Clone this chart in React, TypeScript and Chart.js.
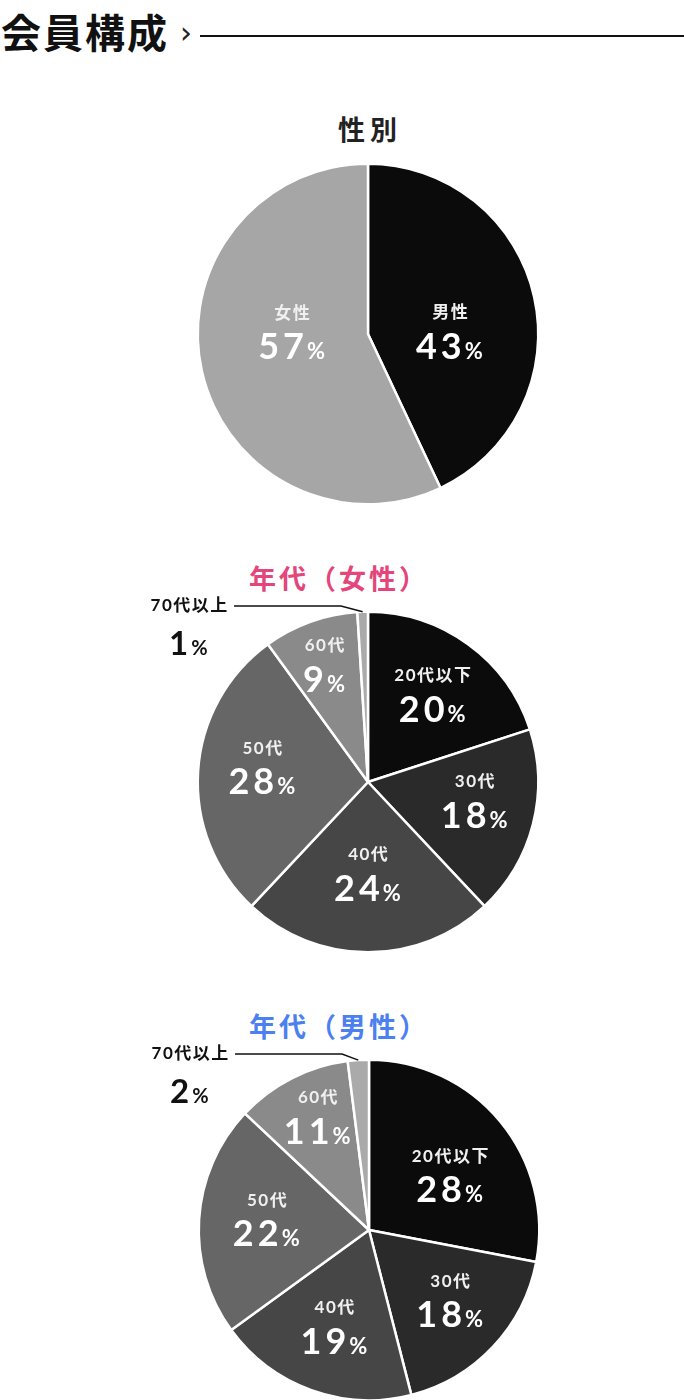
import { Chart, registerables, type ChartConfiguration, type Plugin } from "chart.js";
import type React from "react";
import { useEffect, useRef } from "react";

Chart.register(...registerables);

const genderLabels = ["男性", "女性"];
const genderValues = [43, 57];
const genderColors = ["#0b0b0b", "#a6a6a6"];

const ageLabels = ["20代以下", "30代", "40代", "50代", "60代", "70代以上"];
const femaleAgeValues = [20, 18, 24, 28, 9, 1];
const maleAgeValues = [28, 18, 19, 22, 11, 2];
const ageColors = ["#0b0b0b", "#2a2a2a", "#464646", "#666666", "#8a8a8a", "#aaaaaa"];

const NAME_FONT = "bold 17px Lato, 'Noto Sans CJK JP', sans-serif";
const CJK = "'Noto Sans CJK JP', sans-serif";

// label placement: [angle from top clockwise (deg), distance from centre], null = outside with leader
type Place = [number, number] | null;
type Outside = { elbowX: number; lineY: number; lineStart: number };

const setSpacing = (ctx: CanvasRenderingContext2D, v: string) => {
  (ctx as any).letterSpacing = v;
};

const drawValue = (
  ctx: CanvasRenderingContext2D,
  value: number,
  cx: number,
  cy: number,
  size: number,
  color: string
) => {
  const digits = String(value);
  const pct = Math.round(size * 0.6);
  const sp = `${Math.round(size * 0.11)}px`;
  ctx.textBaseline = "alphabetic";
  ctx.textAlign = "left";
  ctx.font = `bold ${size}px Lato, sans-serif`;
  setSpacing(ctx, sp);
  const w1 = ctx.measureText(digits).width;
  ctx.font = `bold ${pct}px Lato, sans-serif`;
  setSpacing(ctx, "0px");
  const w2 = ctx.measureText("%").width;
  const x0 = cx - (w1 + w2) / 2;
  const base = cy + size * 0.36;
  ctx.fillStyle = color;
  ctx.font = `bold ${size}px Lato, sans-serif`;
  setSpacing(ctx, sp);
  ctx.fillText(digits, x0, base);
  ctx.font = `bold ${pct}px Lato, sans-serif`;
  setSpacing(ctx, "0px");
  ctx.fillText("%", x0 + w1 - 1, base);
};

const drawName = (ctx: CanvasRenderingContext2D, text: string, cx: number, cy: number, color: string) => {
  ctx.font = NAME_FONT;
  setSpacing(ctx, "1.5px");
  ctx.textAlign = "left";
  ctx.textBaseline = "middle";
  const w = ctx.measureText(text).width;
  ctx.fillStyle = color;
  ctx.fillText(text, cx - w / 2 + 0.75, cy);
  setSpacing(ctx, "0px");
};

const pieLabels: Plugin<"pie"> = {
  id: "pieLabels",
  afterDatasetsDraw(chart, _args, opts: any) {
    const ctx = chart.ctx;
    const meta = chart.getDatasetMeta(0);
    const values = chart.data.datasets[0].data as number[];
    const names = chart.data.labels as string[];
    ctx.save();
    meta.data.forEach((el, i) => {
      const { x, y, startAngle, endAngle, outerRadius } = (el as any).getProps(
        ["x", "y", "startAngle", "endAngle", "outerRadius"],
        true
      );
      const place: Place = opts.places[i];
      if (place) {
        const a = ((place[0] - 90) * Math.PI) / 180;
        const px = x + place[1] * Math.cos(a);
        const py = y + place[1] * Math.sin(a);
        drawName(ctx, names[i], px, py - 17, "#f0f0f0");
        drawValue(ctx, values[i], px, py + 16, 36, "#ffffff");
      } else {
        const o: Outside = opts.outside;
        const mid = (startAngle + endAngle) / 2;
        const ex = x + outerRadius * Math.cos(mid);
        const ey = y + outerRadius * Math.sin(mid);
        const ox = x + o.elbowX;
        const oy = y + o.lineY;
        const sx = x + o.lineStart;
        ctx.strokeStyle = "#111";
        ctx.lineWidth = 1.5;
        ctx.beginPath();
        ctx.moveTo(sx, oy);
        ctx.lineTo(ox, oy);
        ctx.lineTo(ex, ey);
        ctx.stroke();
        ctx.font = NAME_FONT;
        setSpacing(ctx, "1.5px");
        const w = ctx.measureText(names[i]).width;
        setSpacing(ctx, "0px");
        const tx = sx - 6 - w / 2;
        drawName(ctx, names[i], tx, oy, "#111111");
        drawValue(ctx, values[i], tx, oy + 37, 33, "#111111");
      }
    });
    ctx.restore();
  },
};

type PieProps = {
  labels: string[];
  values: number[];
  colors: string[];
  cx: number;
  cy: number;
  places: Place[];
  outside?: Outside;
};

const PieChart: React.FC<PieProps> = ({ labels, values, colors, cx, cy, places, outside }) => {
  const chartRef = useRef<HTMLCanvasElement | null>(null);
  const chartInstanceRef = useRef<Chart | null>(null);

  useEffect(() => {
    if (!chartRef.current) return;
    if (chartInstanceRef.current) chartInstanceRef.current.destroy();
    const config: ChartConfiguration<"pie", number[], string> = {
      type: "pie",
      data: {
        labels,
        datasets: [
          {
            data: values,
            backgroundColor: colors,
            borderColor: "#ffffff",
            borderWidth: 2.5,
            hoverOffset: 0,
            offset: 0,
          },
        ],
      },
      options: {
        responsive: false,
        animation: false,
        events: [],
        layout: {
          padding: { left: 2 * cx - 684, right: 0, top: 28.5, bottom: 28.5 },
        },
        plugins: {
          legend: { display: false },
          tooltip: { enabled: false },
          // @ts-ignore
          pieLabels: { places, outside },
        },
      },
      plugins: [pieLabels],
    };
    chartInstanceRef.current = new Chart(chartRef.current, config);
    return () => {
      chartInstanceRef.current?.destroy();
      chartInstanceRef.current = null;
    };
  }, [labels, values, colors, cx, cy, places, outside]);

  return (
    <canvas
      ref={chartRef}
      width={684}
      height={400}
      style={{ position: "absolute", left: 0, top: cy - 200, width: 684, height: 400 }}
    />
  );
};

const titleStyle = (left: number, top: number, color: string, size: number): React.CSSProperties => ({
  position: "absolute",
  left,
  top,
  fontFamily: CJK,
  fontWeight: 700,
  fontSize: size,
  lineHeight: `${size}px`,
  letterSpacing: 3,
  color,
  whiteSpace: "nowrap",
});

const genderPlaces: Place[] = [
  [87, 82],
  [273, 76],
];
const femalePlaces: Place[] = [[36, 110], [99, 108], [180, 90], [279, 107], [340, 127], null];
const malePlaces: Place[] = [[55, 99], [130, 106], [200, 101], [277, 103], [336, 126], null];
const outsideLabel: Outside = { elbowX: -27, lineY: -176, lineStart: -134 };

export default function App() {
  return (
    <div
      style={{
        position: "absolute",
        left: 0,
        top: 0,
        width: 684,
        height: 1400,
        overflow: "hidden",
        background: "#fff",
      }}
    >
      <div style={{ ...titleStyle(1, 11, "#111", 40), letterSpacing: 2 }}>会員構成</div>
      <div
        style={{
          position: "absolute",
          left: 180,
          top: 18,
          fontFamily: "'DejaVu Sans', sans-serif",
          fontSize: 30,
          lineHeight: "30px",
          color: "#222",
        }}
      >
        ›
      </div>
      <div style={{ position: "absolute", left: 200, top: 35, width: 484, height: 2, background: "#111" }} />

      <div style={{ ...titleStyle(338, 115, "#222", 27), letterSpacing: 5 }}>性別</div>
      <PieChart labels={genderLabels} values={genderValues} colors={genderColors} cx={368} cy={334} places={genderPlaces} />

      <div style={titleStyle(249, 564, "#e4457b", 27)}>年代（女性）</div>
      <PieChart
        labels={ageLabels}
        values={femaleAgeValues}
        colors={ageColors}
        cx={368}
        cy={782}
        places={femalePlaces}
        outside={outsideLabel}
      />

      <div style={titleStyle(249, 1012, "#4b80f0", 27)}>年代（男性）</div>
      <PieChart
        labels={ageLabels}
        values={maleAgeValues}
        colors={ageColors}
        cx={369}
        cy={1230}
        places={malePlaces}
        outside={outsideLabel}
      />
    </div>
  );
}
